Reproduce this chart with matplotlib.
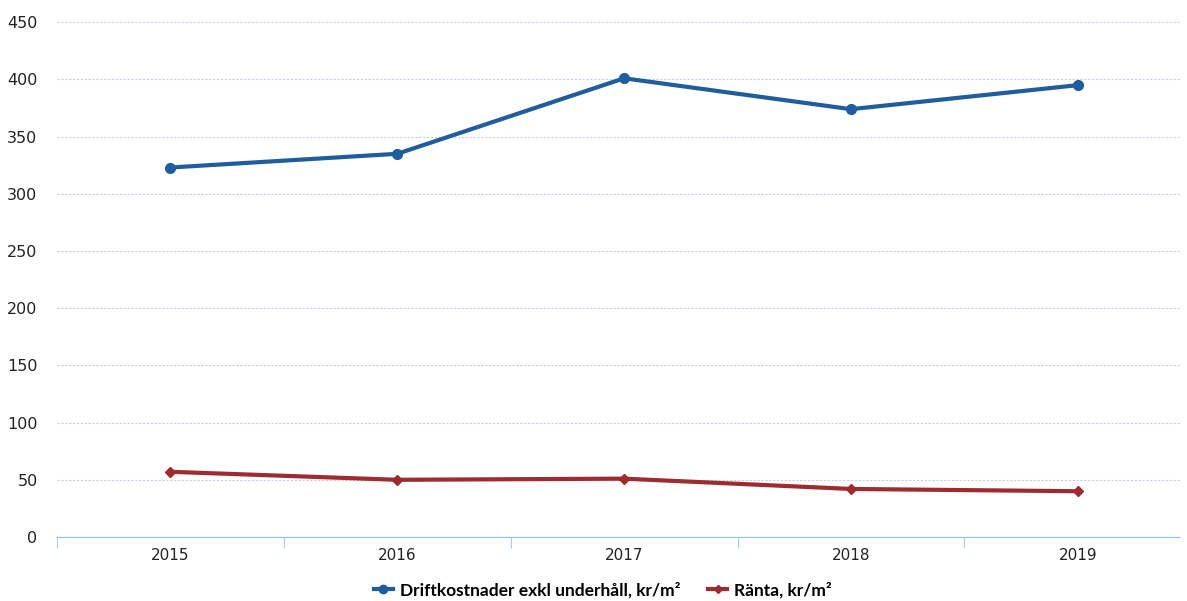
import numpy as np
import matplotlib.pyplot as plt
from matplotlib.lines import Line2D

# data
years = ['2015', '2016', '2017', '2018', '2019']
drift = [323, 335, 401, 374, 395]
ranta = [57, 50, 51, 42, 40]

blue = '#1f5d9e'
red = '#9e2b2f'

fig = plt.figure(figsize=(11.87, 6.01), dpi=100)
ax = fig.add_axes([0.048, 0.1065, 0.946, 0.8565])

x = np.arange(len(years))
ax.plot(x, drift, color=blue, lw=3, marker='o', ms=7, label='Driftkostnader exkl underhåll, kr/m²')
ax.plot(x, ranta, color=red, lw=3, marker='D', ms=5, label='Ränta, kr/m²')

ax.set_xlim(-0.5, 4.45)
ax.set_ylim(0, 450)
ax.set_yticks(np.arange(0, 451, 50))
ax.set_xticks(x)
ax.set_xticklabels(years)
ax.set_xticks(np.arange(-0.5, 4.5, 1), minor=True)

ax.grid(axis='y', color='#c8cde0', lw=0.8, ls=(0, (2, 1.5)))
ax.set_axisbelow(True)
for s in ['top', 'right', 'left']:
    ax.spines[s].set_visible(False)
ax.spines['bottom'].set_color('#8fc0e8')
ax.spines['bottom'].set_linestyle((0, (2, 1)))
ax.tick_params(axis='y', length=0, labelsize=11.5, colors='#222222', pad=14)
ax.tick_params(axis='x', which='major', length=0, labelsize=11, colors='#222222', pad=8)
ax.tick_params(axis='x', which='minor', length=8, color='#8fc0e8', direction='out')

handles = [Line2D([], [], color=blue, lw=3, marker='o', ms=6),
           Line2D([], [], color=red, lw=3, marker='D', ms=4)]
fig.legend(handles, ['Driftkostnader exkl underhåll, kr/m²', 'Ränta, kr/m²'],
           loc='center', bbox_to_anchor=(0.508, 0.018), ncol=2, frameon=False,
           prop={'family': 'Lato', 'weight': 'bold', 'size': 12.5},
           handlelength=1.1, handletextpad=0.4, columnspacing=1.6)

fig.savefig('out.png', dpi=100)
